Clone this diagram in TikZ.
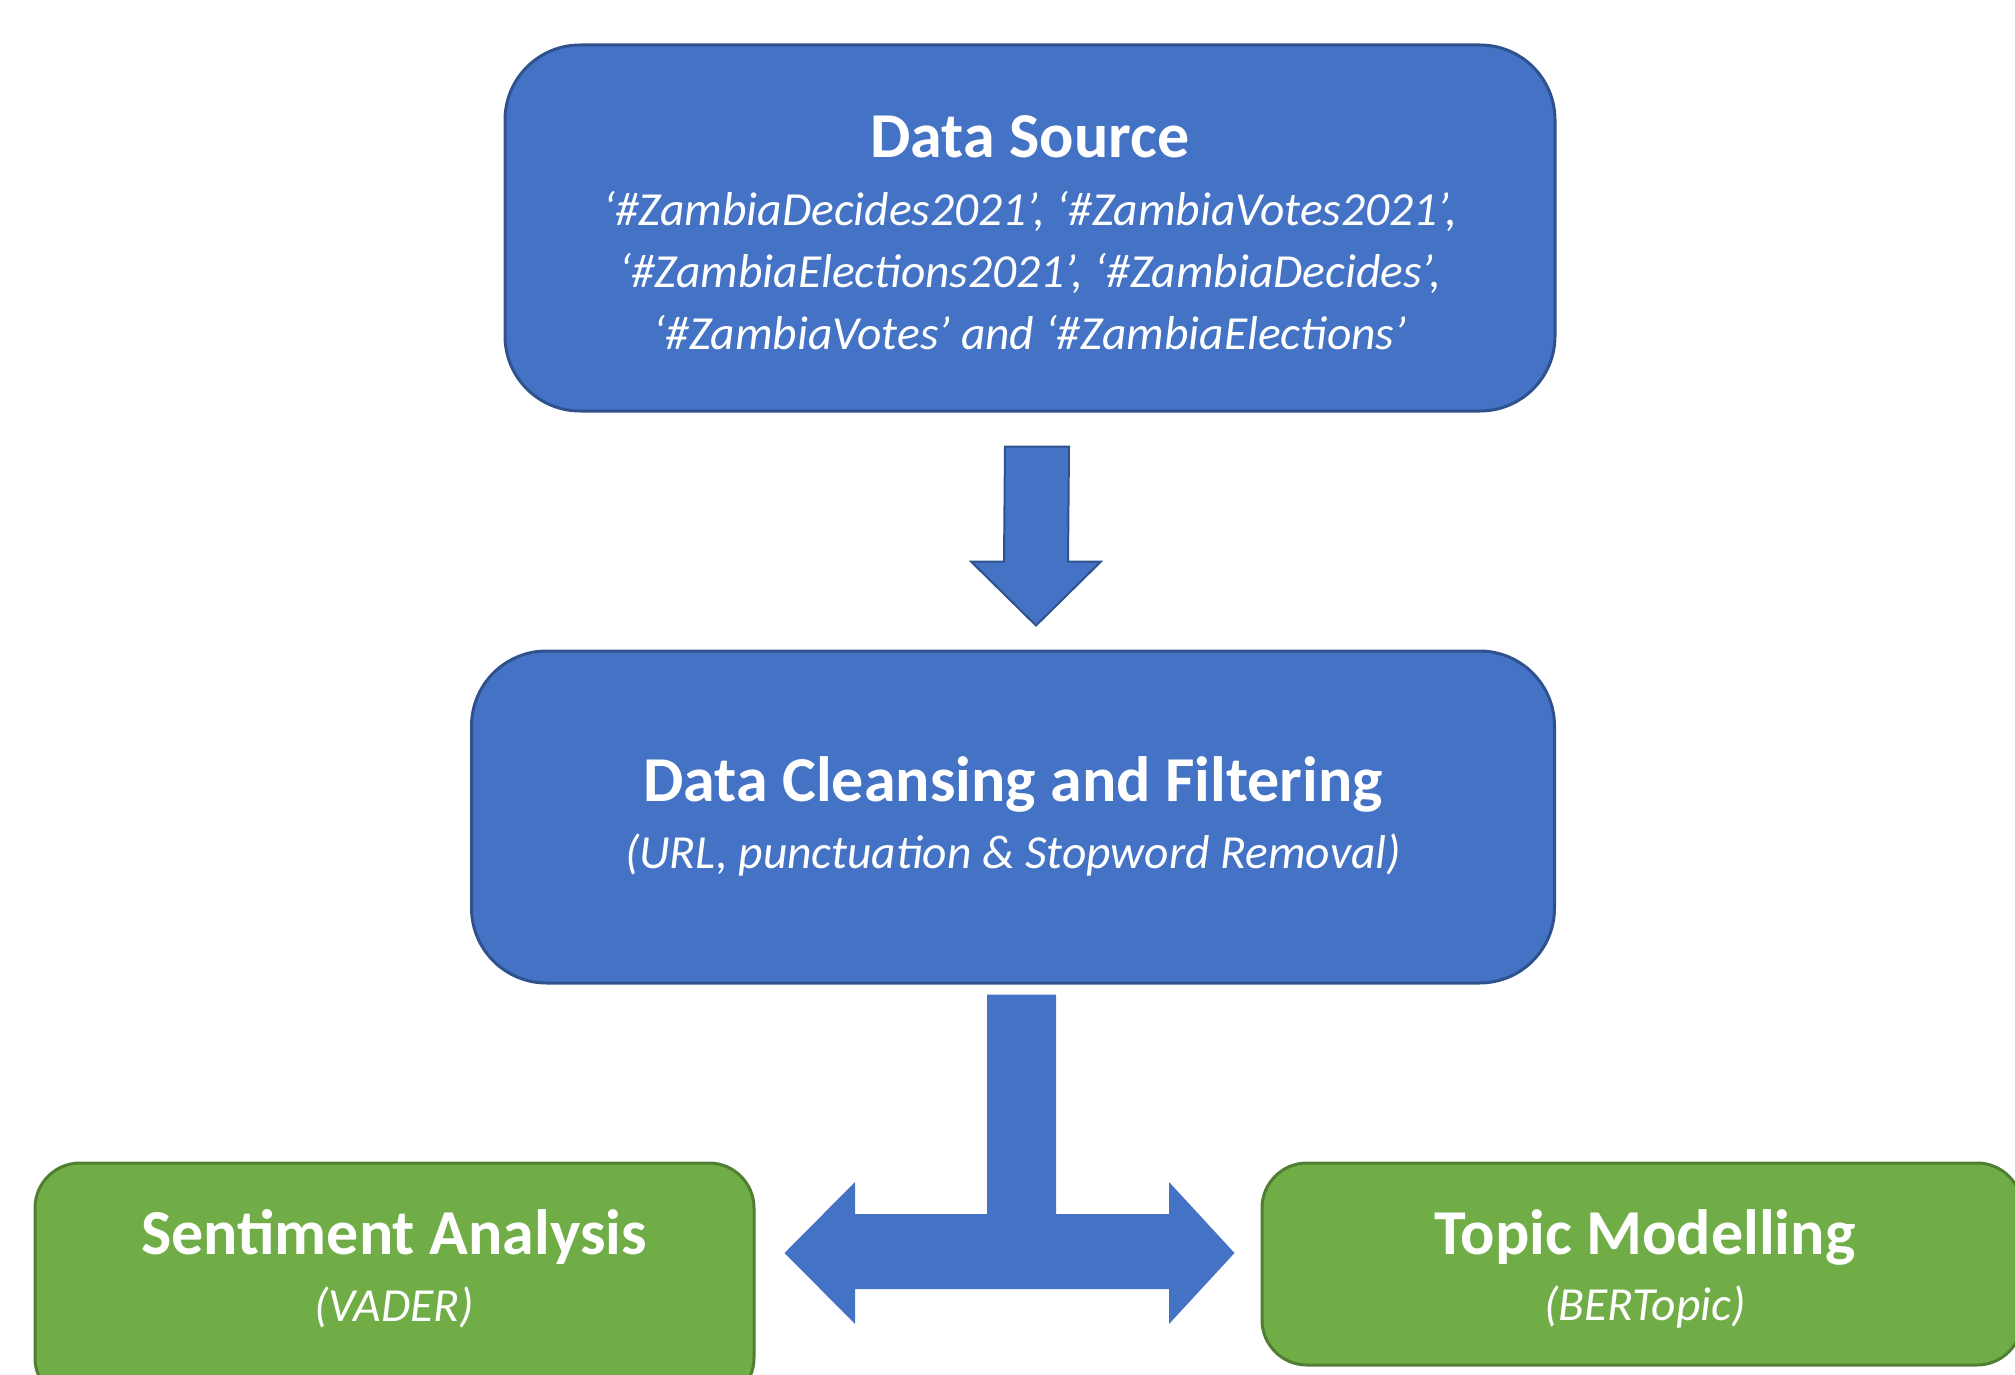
\documentclass[tikz,border=0pt]{standalone}
\usepackage{fontspec}
\setmainfont{Carlito}
\usetikzlibrary{calc}
\definecolor{boxblue}{HTML}{4472C4}
\definecolor{boxblueline}{HTML}{2F528F}
\definecolor{boxgreen}{HTML}{70AD47}
\definecolor{boxgreenline}{HTML}{507E32}
\tikzset{
  bluebox/.style={draw=boxblueline, line width=3pt, fill=boxblue, rounded corners=75pt, text=white, align=center, inner sep=0pt},
  greenbox/.style={draw=boxgreenline, line width=3pt, fill=boxgreen, rounded corners=45pt, text=white, align=center, inner sep=0pt},
  blockarrow/.style={fill=boxblue},
  titletext/.style={font=\fontsize{64}{74}\selectfont\bfseries, text=white},
  subtext/.style={font=\fontsize{47.5}{62}\selectfont\itshape, text=white, align=center},
}
\begin{document}
\begin{tikzpicture}[x=1pt,y=-1pt]
\useasboundingbox (0,0) rectangle (2015,1375);
\clip (0,0) rectangle (2015,1375);
% boxes
\node[bluebox, minimum width=1050pt, minimum height=366pt] (ds) at (1030,228) {};
\node[bluebox, minimum width=1083pt, minimum height=332pt] (dc) at (1013,817) {};
\node[greenbox, minimum width=719pt, minimum height=240pt] (sa) at (394.5,1283) {};
\node[greenbox, minimum width=760pt, minimum height=202pt] (tm) at (1642,1264) {};
% texts
\node[titletext] (dst) at (1030,137) {Data Source};
\node[subtext] (dss) at (1030,271) {‘\#ZambiaDecides2021’, ‘\#ZambiaVotes2021’,\\‘\#ZambiaElections2021’, ‘\#ZambiaDecides’,\\‘\#ZambiaVotes’ and ‘\#ZambiaElections’};
\node[titletext] (dct) at (1013,784) {Data Cleansing and Filtering};
\node[subtext] (dcs) at (1013,855) {(URL, punctuation \& Stopword Removal)};
\node[titletext] (sat) at (394,1237) {Sentiment Analysis};
\node[subtext] (sas) at (394,1307) {(VADER)};
\node[titletext] (tmt) at (1645,1237) {Topic Modelling};
\node[subtext] (tms) at (1645,1307) {(BERTopic)};
% down arrow from ds to dc
\coordinate (a1) at ($(ds.south)+(7,34)$);
\coordinate (a1tip) at ($(dc.north)+(23,-24)$);
\draw[blockarrow, draw=boxblueline, line width=2pt]
  ($(a1)+(-32,0)$) -- ($(a1)+(32,0)$) -- ($(a1tip)+(32,-64)$) -- ($(a1tip)+(65,-64)$)
  -- (a1tip) -- ($(a1tip)+(-65,-64)$) -- ($(a1tip)+(-32,-64)$) -- cycle;
% T arrow from dc to sa and tm
\coordinate (t0) at ($(dc.south)+(8.5,10)$);
\coordinate (lt) at ($(sa.east)+(29,-30)$);
\coordinate (rt) at ($(tm.west)+(-26,-11)$);
\fill[blockarrow]
  ($(t0)+(-34.5,0)$) -- ($(t0)+(34.5,0)$) -- (1056,1214) -- (1169,1214) -- (1169,1182)
  -- (rt) -- (1169,1324) -- (1169,1289) -- (855,1289) -- (855,1324)
  -- (lt) -- (855,1182) -- (855,1214) -- (987,1214) -- cycle;
\end{tikzpicture}
\end{document}
